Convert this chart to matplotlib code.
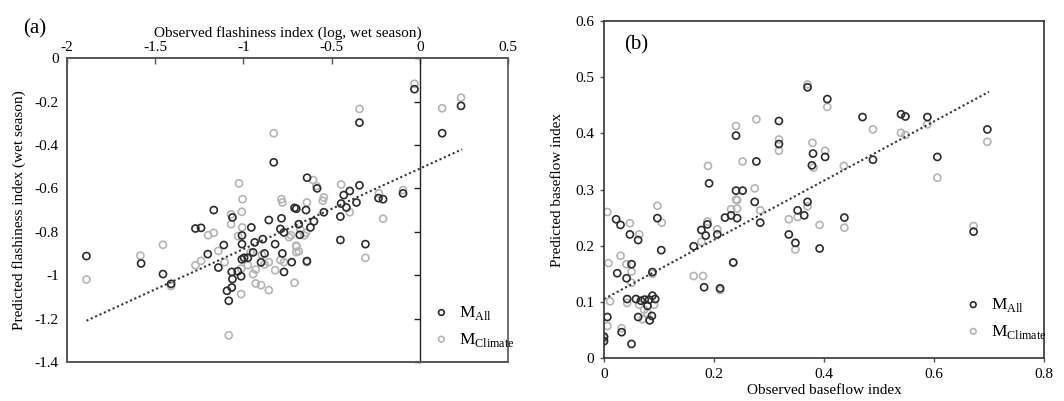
"""
Scatter plots of observed vs predicted flashiness index and baseflow index
for the two model variants (M_All, M_Climate).
"""

import matplotlib
matplotlib.use("Agg")
import matplotlib.pyplot as plt
from matplotlib.patches import Rectangle
from matplotlib.ticker import FuncFormatter


# ==========================================================
# Data
# ==========================================================

# (a) flashiness index, log, wet season -- M_All
flash_all_obs = [
    -1.89, -1.58, -1.456, -1.41, -1.272, -1.24, -1.168, -1.202, -1.142, -1.111,
    -1.066, -1.032, -1.062, -1.013, -1.093, -1.066, -1.083, -1.062, -1.008, -1.008,
    -0.955, -1.009, -0.975, -0.945, -0.936, -0.90, -0.89, -0.88, -0.856, -0.82,
    -0.784, -0.79, -0.77, -0.779, -0.77, -0.726, -0.71, -0.70, -0.686, -0.68,
    -0.645, -0.64, -0.62, -0.60, -0.544, -0.446, -0.45, -0.45, -0.416, -0.359,
    -0.308, -0.208, -0.234, -0.095, -0.03, -0.342, 0.127, 0.234, -0.828, -0.639,
    -0.582, -0.342, -0.397, -0.431, -0.996,
]
flash_all_pred = [
    -0.912, -0.946, -0.995, -1.04, -0.785, -0.782, -0.70, -0.903, -0.965, -0.861,
    -0.985, -0.982, -1.018, -1.005, -1.072, -1.057, -1.118, -0.734, -0.817, -0.857,
    -0.78, -0.927, -0.920, -0.895, -0.849, -0.941, -0.834, -0.90, -0.746, -0.857,
    -0.738, -0.787, -0.803, -0.90, -0.985, -0.94, -0.69, -0.694, -0.765, -0.814,
    -0.70, -0.935, -0.78, -0.752, -0.71, -0.67, -0.73, -0.838, -0.688, -0.665,
    -0.857, -0.65, -0.645, -0.623, -0.143, -0.297, -0.346, -0.22, -0.48, -0.551,
    -0.60, -0.586, -0.612, -0.631, -0.92,
]

# (a) flashiness index -- M_Climate
flash_clim_obs = [
    -1.89, -1.584, -1.456, -1.41, -1.272, -1.24, -1.2, -1.168, -1.142, -1.107,
    -1.07, -1.07, -1.009, -1.013, -1.013, -1.03, -1.007, -0.975, -0.96, -0.945,
    -0.93, -0.93, -0.90, -0.895, -0.88, -0.856, -0.856, -0.82, -0.79, -0.779,
    -0.77, -0.73, -0.71, -0.70, -0.686, -0.677, -0.645, -0.64, -0.64, -0.55,
    -0.397, -0.308, -0.208, -1.083, -0.03, -0.342, 0.127, 0.234, -0.828, -1.025,
    -0.605, -0.446, -0.095, -0.232, -0.544, -1.005, -0.784, -0.741, -0.654, -0.70,
    -0.70, -0.586,
]
flash_clim_pred = [
    -1.02, -0.91, -0.86, -1.05, -0.954, -0.934, -0.816, -0.805, -0.888, -0.94,
    -0.72, -0.765, -0.708, -0.97, -1.087, -0.82, -0.78, -0.954, -0.895, -0.995,
    -0.974, -1.038, -1.046, -0.906, -0.95, -1.069, -0.94, -0.977, -0.93, -0.665,
    -0.94, -0.816, -1.035, -0.864, -0.89, -0.79, -0.805, -0.94, -0.665, -0.657,
    -0.71, -0.92, -0.74, -1.277, -0.118, -0.234, -0.231, -0.182, -0.346, -0.577,
    -0.562, -0.582, -0.608, -0.623, -0.642, -0.65, -0.65, -0.825, -0.817, -0.868,
    -0.894, -0.589,
]

# (a) dotted trend line end points
flash_trend_x = [-1.89, 0.24]
flash_trend_y = [-1.21, -0.42]

# (b) baseflow index -- M_All
bfi_all_obs = [
    0.240, 0.191, 0.240, 0.252, 0.277, 0.318, 0.318, 0.370, 0.406, 0.380,
    0.378, 0.402, 0.470, 0.489, 0.540, 0.548, 0.588, 0.606, 0.697, 0.274,
    0.370, 0.022, 0.030, 0.047, 0.062, 0.104, 0.097, 0.024, 0.041, 0.050,
    0.088, 0.042, 0.058, 0.067, 0.074, 0.082, 0.088, 0.093, 0.079, 0.062,
    0.087, 0.083, 0.006, 0.0, 0.0, 0.032, 0.050, 0.163, 0.177, 0.185,
    0.188, 0.206, 0.220, 0.231, 0.242, 0.284, 0.182, 0.211, 0.235, 0.336,
    0.348, 0.364, 0.352, 0.392, 0.437, 0.672,
]
bfi_all_pred = [
    0.396, 0.311, 0.298, 0.298, 0.350, 0.422, 0.381, 0.482, 0.461, 0.364,
    0.343, 0.358, 0.429, 0.353, 0.434, 0.430, 0.429, 0.358, 0.407, 0.278,
    0.278, 0.247, 0.237, 0.220, 0.210, 0.192, 0.249, 0.151, 0.142, 0.167,
    0.153, 0.105, 0.105, 0.102, 0.104, 0.104, 0.111, 0.105, 0.093, 0.073,
    0.075, 0.067, 0.073, 0.038, 0.030, 0.046, 0.025, 0.199, 0.228, 0.218,
    0.238, 0.220, 0.250, 0.254, 0.249, 0.241, 0.126, 0.124, 0.170, 0.220,
    0.205, 0.254, 0.263, 0.195, 0.250, 0.225,
]

# (b) baseflow index -- M_Climate
bfi_clim_obs = [
    0.189, 0.240, 0.252, 0.277, 0.274, 0.318, 0.318, 0.370, 0.406, 0.379,
    0.381, 0.402, 0.436, 0.489, 0.540, 0.548, 0.588, 0.606, 0.697, 0.240,
    0.006, 0.008, 0.030, 0.041, 0.047, 0.050, 0.064, 0.097, 0.105, 0.011,
    0.006, 0.032, 0.050, 0.042, 0.064, 0.073, 0.079, 0.070, 0.088, 0.091,
    0.163, 0.180, 0.177, 0.188, 0.206, 0.211, 0.231, 0.242, 0.242, 0.235,
    0.284, 0.336, 0.352, 0.348, 0.370, 0.392, 0.437, 0.672, 0.0,
]
bfi_clim_pred = [
    0.342, 0.413, 0.350, 0.425, 0.302, 0.389, 0.369, 0.487, 0.447, 0.383,
    0.339, 0.369, 0.342, 0.407, 0.401, 0.397, 0.416, 0.321, 0.385, 0.282,
    0.260, 0.169, 0.182, 0.167, 0.240, 0.154, 0.220, 0.271, 0.241, 0.101,
    0.057, 0.053, 0.134, 0.098, 0.095, 0.086, 0.080, 0.069, 0.150, 0.095,
    0.146, 0.146, 0.207, 0.243, 0.229, 0.121, 0.265, 0.266, 0.281, 0.170,
    0.263, 0.247, 0.251, 0.193, 0.270, 0.237, 0.232, 0.235, 0.035,
]

# (b) dotted trend line end points
bfi_trend_x = [0.0, 0.70]
bfi_trend_y = [0.105, 0.474]

flash_xticks = [-2, -1.5, -1, -0.5, 0, 0.5]
flash_yticks = [0, -0.2, -0.4, -0.6, -0.8, -1, -1.2, -1.4]
bfi_xticks = [0, 0.2, 0.4, 0.6, 0.8]
bfi_yticks = [0, 0.1, 0.2, 0.3, 0.4, 0.5, 0.6]


# ==========================================================
# Style
# ==========================================================

plt.rcParams["font.family"] = ["Liberation Serif", "DejaVu Serif"]
plt.rcParams["mathtext.fontset"] = "custom"
plt.rcParams["mathtext.rm"] = "Liberation Serif"
plt.rcParams["axes.unicode_minus"] = False

DARK = "#2b2b2b"
LIGHT = "#b4b4b4"
AXIS = "#555555"

fmt = FuncFormatter(lambda v, pos: "%g" % v)


def scatter_pair(ax, x1, y1, x2, y2):
    ax.scatter(x1, y1, s=26, facecolors="none", edgecolors=DARK,
               linewidths=1.2, label=r"M$_{\mathrm{All}}$", zorder=3)
    ax.scatter(x2, y2, s=26, facecolors="none", edgecolors=LIGHT,
               linewidths=1.2, label=r"M$_{\mathrm{Climate}}$", zorder=2)


def add_legend(ax, anchor):
    ax.legend(loc="lower left", bbox_to_anchor=anchor, frameon=False,
              fontsize=12.5, handletextpad=0.0, labelspacing=0.5,
              borderpad=0, markerscale=0.8)


# ==========================================================
# Figure
# ==========================================================

fig = plt.figure(figsize=(10.64, 4.01), dpi=100)

# ---------------- (a) flashiness ----------------
ax1 = fig.add_axes([0.063, 0.0973, 0.4144, 0.7577])

scatter_pair(ax1, flash_all_obs, flash_all_pred,
             flash_clim_obs, flash_clim_pred)
ax1.plot(flash_trend_x, flash_trend_y, color="#333333",
         linestyle=(0, (1, 1.3)), linewidth=1.5, zorder=4)

ax1.set_xlim(-2, 0.5)
ax1.set_ylim(-1.4, 0)
ax1.set_xticks(flash_xticks)
ax1.set_yticks(flash_yticks)
ax1.xaxis.set_major_formatter(fmt)
ax1.yaxis.set_major_formatter(fmt)

# x axis along the top, y axis crossing at x = 0
ax1.xaxis.set_ticks_position("top")
ax1.xaxis.set_label_position("top")
ax1.tick_params(axis="x", direction="in", length=4, width=1,
                color=AXIS, labelsize=11, pad=3)
ax1.spines["right"].set_position(("data", 0))
ax1.tick_params(axis="y", left=False, right=True, labelleft=True,
                labelright=False, direction="in", length=4, width=1,
                color="#222222", labelsize=11, pad=6)

for side in ["left", "bottom", "top"]:
    ax1.spines[side].set_color(AXIS)
    ax1.spines[side].set_linewidth(1.2)
ax1.spines["right"].set_color("#222222")
ax1.spines["right"].set_linewidth(1.0)
ax1.add_patch(Rectangle((0, 0), 1, 1, transform=ax1.transAxes,
                        fill=False, edgecolor=AXIS, linewidth=1.2,
                        clip_on=False, zorder=5))

ax1.set_xlabel("Observed flashiness index (log, wet season)",
               fontsize=11, labelpad=3)
ax1.set_ylabel("Predicted flashiness index (wet season)",
               fontsize=11, labelpad=6)
fig.text(0.022, 0.928, "(a)", fontsize=15, va="center")

add_legend(ax1, (0.79, 0.015))

# ---------------- (b) baseflow ----------------
ax2 = fig.add_axes([0.5677, 0.1072, 0.4135, 0.8404])

scatter_pair(ax2, bfi_all_obs, bfi_all_pred,
             bfi_clim_obs, bfi_clim_pred)
ax2.plot(bfi_trend_x, bfi_trend_y, color="#333333",
         linestyle=(0, (1, 1.3)), linewidth=1.5, zorder=4)

ax2.set_xlim(0, 0.8)
ax2.set_ylim(0, 0.6)
ax2.set_xticks(bfi_xticks)
ax2.set_yticks(bfi_yticks)
ax2.xaxis.set_major_formatter(fmt)
ax2.yaxis.set_major_formatter(fmt)
ax2.tick_params(direction="out", length=3, width=1, color=AXIS,
                labelsize=11, pad=4)
for side in ax2.spines:
    ax2.spines[side].set_color("#333333")
    ax2.spines[side].set_linewidth(1.2)

ax2.set_xlabel("Observed baseflow index", fontsize=11, labelpad=2)
ax2.set_ylabel("Predicted baseflow index", fontsize=11, labelpad=8)
ax2.text(0.045, 0.93, "(b)", transform=ax2.transAxes, fontsize=15,
         va="center")

add_legend(ax2, (0.78, 0.025))

fig.savefig("out.png", dpi=100)
plt.close(fig)
